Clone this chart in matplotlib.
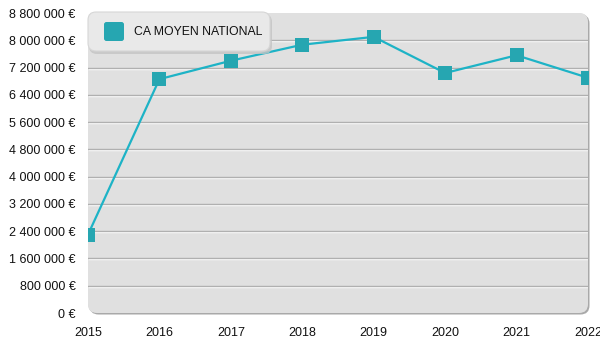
import numpy as np
import matplotlib
matplotlib.use('Agg')
import matplotlib.pyplot as plt
from matplotlib.patches import FancyBboxPatch
from matplotlib.path import Path
from matplotlib.ticker import FuncFormatter, MultipleLocator
from matplotlib import transforms

plt.rcParams['font.family'] = ['Liberation Sans', 'DejaVu Sans']

# CA moyen national par année
years = [2015, 2016, 2017, 2018, 2019, 2020, 2021, 2022]
ca_moyen = [2300000, 6860000, 7400000, 7870000, 8100000, 7040000, 7560000, 6900000]
series_label = 'CA MOYEN NATIONAL'

y_max = 8800000
y_step = 800000

line_color = '#1db3c6'
marker_color = '#26a6b1'

W, H = 600, 350
fig = plt.figure(figsize=(W / 100, H / 100), dpi=100)
fig.patch.set_facecolor('white')

# plot box in pixels
x0, x1 = 88, 588
y_top, y_bot = 13, 313


def px_axes(zorder):
    a = fig.add_axes([0, 0, 1, 1], zorder=zorder)
    a.set_xlim(0, W)
    a.set_ylim(H, 0)
    a.axis('off')
    a.patch.set_alpha(0)
    return a


# background panel with rounded corners and gradient
bg = px_axes(0)
shadow = FancyBboxPatch((x0 + 1.5, y_top + 1.5), x1 - x0, y_bot - y_top,
                        boxstyle='round,pad=0,rounding_size=9',
                        facecolor='#a9a9a9', edgecolor='none')
bg.add_patch(shadow)
panel = FancyBboxPatch((x0, y_top), x1 - x0, y_bot - y_top,
                       boxstyle='round,pad=0,rounding_size=9',
                       facecolor='#e0e0e0', edgecolor='none')
bg.add_patch(panel)
grad = np.linspace(0, 1, 256).reshape(-1, 1)
cmap = matplotlib.colors.LinearSegmentedColormap.from_list('bg', ['#e8e8e8', '#d8d8d8'])
im = bg.imshow(grad, cmap=cmap, extent=[x0, x1, y_bot, y_top], aspect='auto',
               interpolation='bilinear')
im.set_clip_path(panel)
bg.set_xlim(0, W)
bg.set_ylim(H, 0)

# data axes
ax = fig.add_axes([x0 / W, 1 - y_bot / H, (x1 - x0) / W, (y_bot - y_top) / H], zorder=1)
ax.patch.set_alpha(0)
for s in ax.spines.values():
    s.set_visible(False)
ax.set_xlim(years[0], years[-1])
ax.set_ylim(0, y_max)

grid_vals = np.arange(y_step, y_max, y_step)
white_off = transforms.offset_copy(ax.transData, fig=fig, x=0, y=-1, units='dots')
for v in grid_vals:
    ax.plot([years[0], years[-1]], [v, v], color='white', lw=1, transform=white_off,
            zorder=1, solid_capstyle='butt')
    ax.axhline(v, color='#b0b0b0', lw=1, zorder=1.1)

# rounded square marker (single closed outline)
rs = FancyBboxPatch((-0.5, -0.5), 1, 1, boxstyle='round,pad=0,rounding_size=0.2')
verts = rs.get_path().vertices
rounded_square = Path(verts[:-1])

ax.plot(years, ca_moyen, color=line_color, lw=1.6, zorder=3)
ax.scatter(years, ca_moyen, marker=rounded_square, s=88, c=marker_color,
           linewidths=0, zorder=4)

ax.yaxis.set_major_locator(MultipleLocator(y_step))
ax.yaxis.set_major_formatter(FuncFormatter(lambda v, p: f'{int(v):,} €'.replace(',', ' ')))
ax.set_xticks(years)
ax.tick_params(axis='both', length=0, labelsize=9, colors='#111111')
ax.tick_params(axis='y', pad=9)
ax.tick_params(axis='x', pad=10)

# legend box
lg = px_axes(5)
lg_shadow = FancyBboxPatch((x0 + 1, 14), 183, 40, boxstyle='round,pad=0,rounding_size=8',
                           facecolor='#c4c4c4', edgecolor='none', alpha=0.8)
lg.add_patch(lg_shadow)
lg_box = FancyBboxPatch((x0, 12), 182, 39, boxstyle='round,pad=0,rounding_size=8',
                        facecolor='#e9e9e9', edgecolor='#d6d6d6', lw=0.8)
lg.add_patch(lg_box)
swatch = FancyBboxPatch((104, 22), 20, 19, boxstyle='round,pad=0,rounding_size=2.5',
                        facecolor=marker_color, edgecolor='none')
lg.add_patch(swatch)
sw_grad = np.linspace(0, 1, 64).reshape(1, -1)
sw_cmap = matplotlib.colors.LinearSegmentedColormap.from_list('sw', ['#2cb2bd', '#1f95a1'])
sw_im = lg.imshow(sw_grad, cmap=sw_cmap, extent=[104, 124, 41, 22], aspect='auto')
sw_im.set_clip_path(swatch)
lg.text(134, 32, series_label, fontsize=8.8, color='#111111', va='center', ha='left')
lg.set_xlim(0, W)
lg.set_ylim(H, 0)

fig.savefig('out.png', dpi=100)
